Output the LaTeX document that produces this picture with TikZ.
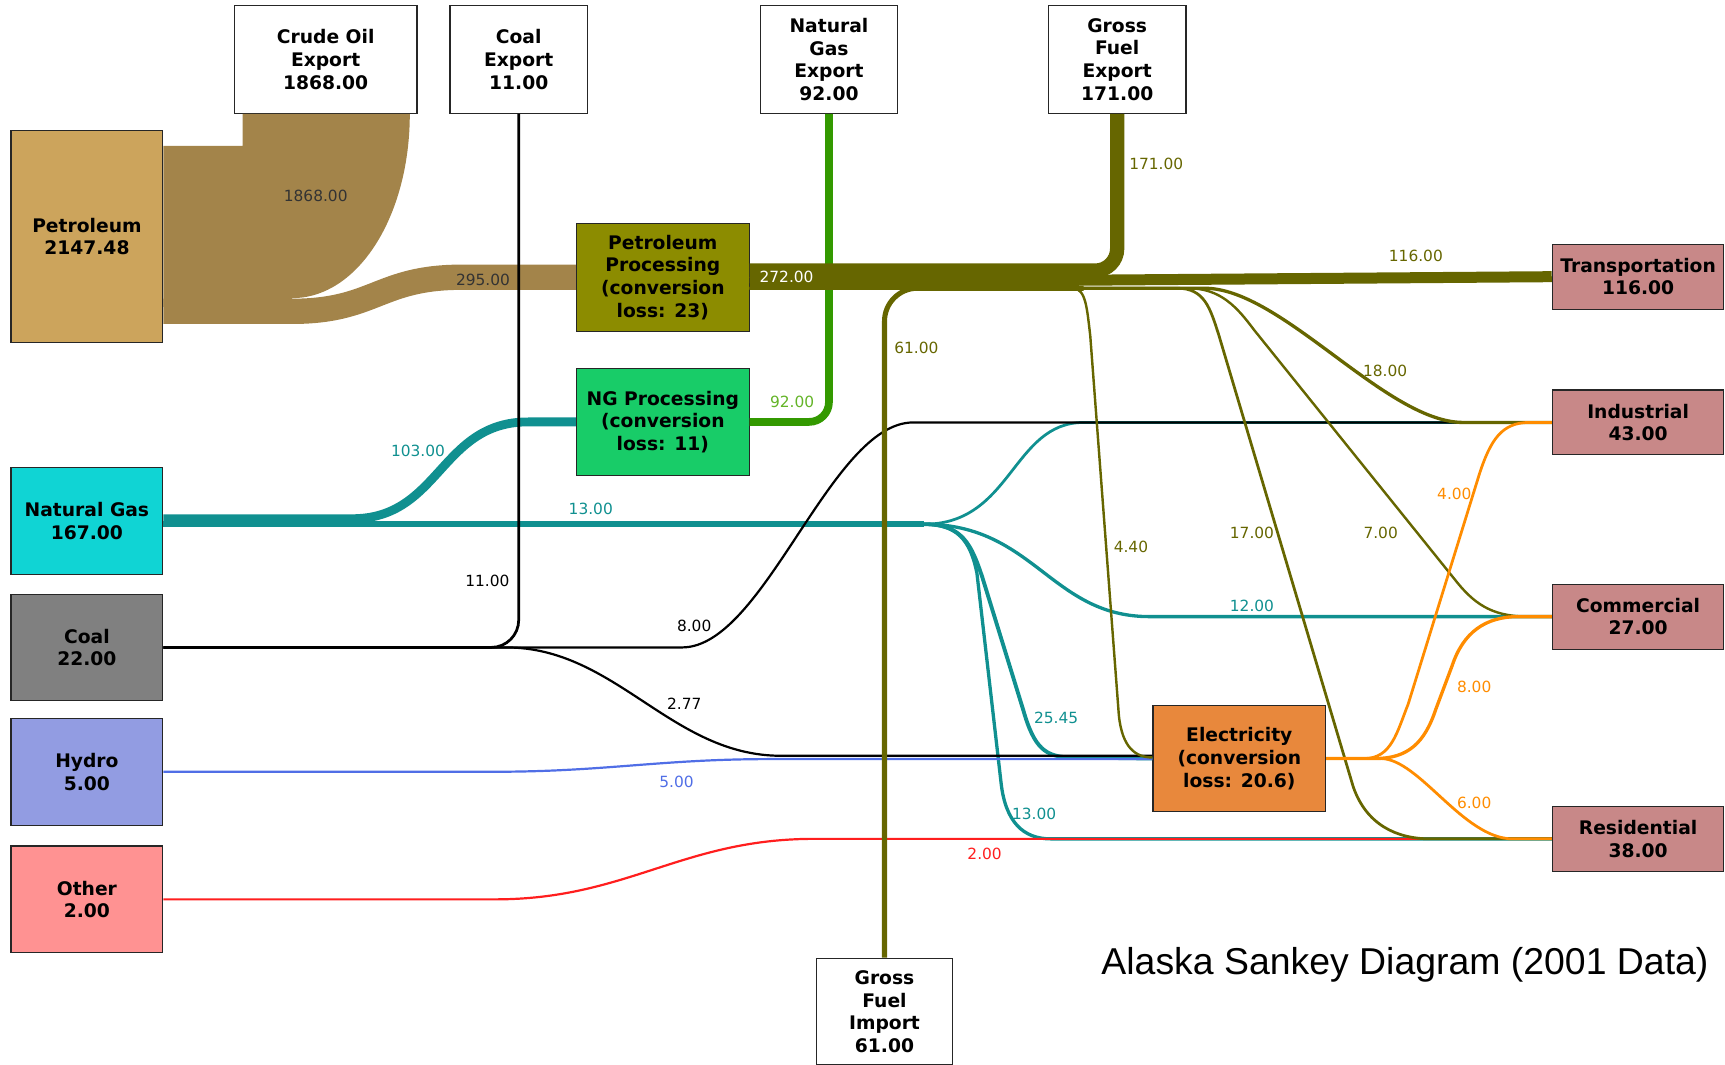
\documentclass[tikz,border=0pt]{standalone}
\usepackage{fontspec}
\setmainfont{DejaVu Sans}
\newfontfamily\titlefont{Liberation Sans}
\usepackage{tikz}
\usetikzlibrary{calc,positioning}

\definecolor{petrofill}{RGB}{204,164,92}
\definecolor{petroflow}{RGB}{163,132,74}
\definecolor{procfill}{RGB}{140,140,0}
\definecolor{fuelcol}{RGB}{102,102,0}
\definecolor{ngpfill}{RGB}{24,204,104}
\definecolor{ngfill}{RGB}{16,212,212}
\definecolor{gascol}{RGB}{16,144,144}
\definecolor{exportcol}{RGB}{51,153,0}
\definecolor{exportlbl}{RGB}{100,180,40}
\definecolor{coalfill}{RGB}{128,128,128}
\definecolor{hydrofill}{RGB}{146,156,226}
\definecolor{hydrocol}{RGB}{80,110,230}
\definecolor{otherfill}{RGB}{255,146,146}
\definecolor{othercol}{RGB}{255,30,30}
\definecolor{elecfill}{RGB}{232,136,60}
\definecolor{eleccol}{RGB}{255,140,0}
\definecolor{sinkfill}{RGB}{200,136,136}

\newcommand{\boxfont}{\bfseries\fontsize{17}{20.6}\selectfont}
\newcommand{\lblfont}{\fontsize{14}{16}\selectfont}

\begin{document}
\begin{tikzpicture}[x=1pt,y=-1pt]
\tikzstyle{box} = [draw=black!85, line width=1pt, rectangle, inner sep=0pt, align=center, font=\boxfont, minimum width=138pt, minimum height=97pt];
\tikzstyle{sink} = [box, fill=sinkfill, minimum width=156pt, minimum height=59pt];
\tikzstyle{lbl} = [font=\lblfont, inner sep=1pt];
\useasboundingbox (0,0) rectangle (1568,968);
% sources
\node[box, fill=petrofill, minimum height=192pt] (petro) at (79,215) {Petroleum\\2147.48};
\node[box, fill=ngfill] (ngas) at (79,473.5) {Natural Gas\\167.00};
\node[box, fill=coalfill] (coal) at (79,588.5) {Coal\\22.00};
\node[box, fill=hydrofill] (hydro) at (79,701.5) {Hydro\\5.00};
\node[box, fill=otherfill] (other) at (79,817.5) {Other\\2.00};
% exports and import
\node[box, fill=white, minimum width=166pt, minimum height=98pt] (crude) at (296,54) {Crude Oil\\Export\\1868.00};
\node[box, fill=white, minimum width=125pt, minimum height=98pt] (coalx) at (471.5,54) {Coal\\Export\\11.00};
\node[box, fill=white, minimum width=125pt, minimum height=98pt] (ngx) at (753.5,54) {Natural\\Gas\\Export\\92.00};
\node[box, fill=white, minimum width=125pt, minimum height=98pt] (gfx) at (1015.5,54) {Gross\\Fuel\\Export\\171.00};
\node[box, fill=white, minimum width=124pt] (gfi) at (804,919.5) {Gross\\Fuel\\Import\\61.00};
% processing
\node[box, fill=procfill, minimum width=157pt, minimum height=98pt] (pproc) at (602.5,252) {Petroleum\\Processing\\(conversion\\loss: 23)};
\node[box, fill=ngpfill, minimum width=157pt] (ngproc) at (602.5,383.5) {NG Processing\\(conversion\\loss: 11)};
\node[box, fill=elecfill, minimum width=157pt] (elec) at (1126.5,689.5) {Electricity\\(conversion\\loss: 20.6)};
% sectors
\node[sink] (trans) at (1489,251.5) {Transportation\\116.00};
\node[sink] (ind) at (1489,384) {Industrial\\43.00};
\node[sink] (com) at (1489,560.5) {Commercial\\27.00};
\node[sink] (res) at (1489,762.5) {Residential\\38.00};

% petroleum
\fill[petroflow] ($(petro.north east)+(0,14)$) -| ($(crude.south west)+(8,0)$) -- ($(crude.south east)+(-7,0)$) .. controls +(0,93) and +(60,0) .. ($(petro.east)+(117,56)$) -- ++(0,8) -- ($(petro.east)+(0,64)$) -- cycle;
\draw[petroflow, line width=23pt] ($(petro.east)+(0,68)$) -- ++(117,0) .. controls +(75,0) and +(-75,0) .. ($(pproc.west)+(-104,0)$) -- (pproc.west);
% natural gas export
\draw[exportcol, line width=7pt, rounded corners=18pt] (ngproc.east) -| (ngx.south);
% refined fuel
\draw[fuelcol, line width=13pt, rounded corners=20pt] ($(pproc.east)+(0,-6)$) -| (gfx.south);
\draw[fuelcol, line width=10pt] ($(pproc.east)+(0,5)$) -- (trans.west);
% natural gas
\draw[gascol, line width=8pt] ($(ngas.east)+(0,-2)$) -- (320,471.5) .. controls +(80,0) and +(-80,0) .. (480,383.5) -- (ngproc.west);
\draw[gascol, line width=5pt] ($(ngas.east)+(0,3)$) -- (840,476.5);
\draw[gascol, line width=2.5pt] ($(ngas.east)+(0,3)$) -- (840,476.5) .. controls +(80,0) and +(-65,0) .. (985,384) -- (ind.west);
\draw[gascol, line width=3pt] ($(ngas.east)+(0,3)$) -- (840,476.5) .. controls +(100,0) and +(-90,0) .. (1045,560.5) -- (com.west);
\draw[gascol, line width=3.5pt] ($(ngas.east)+(0,3)$) -- (840,476.5) .. controls +(35,0) and +(-10,-30) .. (893,525) -- (930,645) .. controls +(10,35) and +(-25,0) .. (975,688.5) -- (elec.west);
\draw[gascol, line width=3pt] ($(ngas.east)+(0,3)$) -- (840,476.5) .. controls +(30,0) and +(-6,-30) .. (888,521) -- (910,712) .. controls +(4,35) and +(-25,0) .. (955,762.5) -- (res.west);
% coal
\draw[black, line width=2.5pt, rounded corners=25pt] (coal.east) -| (coalx.south);
\draw[black, line width=2pt] (coal.east) -- (620,588.5) .. controls +(75,0) and +(-75,0) .. (830,384) -- (ind.west);
\draw[black, line width=2pt] (coal.east) -- (460,588.5) .. controls +(100,0) and +(-100,0) .. (710,687) -- ($(elec.west)+(0,-2.5)$);
% hydro and other
\draw[hydrocol, line width=2pt] (hydro.east) -- (450,701.5) .. controls +(100,0) and +(-100,0) .. (700,690) -- ($(elec.west)+(0,0.5)$);
\draw[othercol, line width=2pt] (other.east) -- (450,817.5) .. controls +(120,0) and +(-120,0) .. (740,762.5) -- (res.west);
% import and fuel branches
\draw[fuelcol, line width=4.6pt, rounded corners=30pt] (gfi.north) |- (985,262);
\draw[fuelcol, line width=2.2pt] ($(pproc.east)+(0,10)$) -- (975,262) .. controls +(12,0) and +(-3,-25) .. (991,305) -- (1017,650) .. controls +(3,30) and +(-15,0) .. ($(elec.west)+(0,-1)$);
\draw[fuelcol, line width=2.5pt] ($(pproc.east)+(0,10)$) -- (1070,262) .. controls +(25,0) and +(-8,-25) .. (1108,305) -- (1230,715) .. controls +(12,35) and +(-30,0) .. (1300,762.5) -- (res.west);
\draw[fuelcol, line width=2.2pt] ($(pproc.east)+(0,10)$) -- (1080,262) .. controls +(30,0) and +(-15,-20) .. (1140,300) -- (1325,530) .. controls +(18,22) and +(-30,0) .. (1390,560.5) -- (com.west);
\draw[fuelcol, line width=3pt] ($(pproc.east)+(0,10)$) -- (1095,262) .. controls +(70,0) and +(-70,0) .. (1330,384) -- (ind.west);
% electricity
\draw[eleccol, line width=2.5pt] (elec.east) -- (1240,689.5) .. controls +(25,0) and +(-10,25) .. (1280,640) -- (1345,430) .. controls +(10,-30) and +(-25,0) .. (1390,384) -- (ind.west);
\draw[eleccol, line width=3pt] (elec.east) -- (1250,689.5) .. controls +(30,0) and +(-10,30) .. (1305,645) -- (1320,605) .. controls +(10,-30) and +(-30,0) .. (1380,560.5) -- (com.west);
\draw[eleccol, line width=2.5pt] (elec.east) -- (1255,689.5) .. controls +(35,0) and +(-45,0) .. (1375,762.5) -- (res.west);

% flow values
\node[lbl, text=black!80] (v1868) at (287,178) {1868.00};
\node[lbl, text=black!80] (v295) at (439,254) {295.00};
\node[lbl, text=white] (v272) at (715,252) {272.00};
\node[lbl, text=fuelcol] (v171) at (1051,149) {171.00};
\node[lbl, text=fuelcol] (v116) at (1287,233) {116.00};
\node[lbl, text=fuelcol] (v61) at (833,316) {61.00};
\node[lbl, text=fuelcol] (v18) at (1259,337) {18.00};
\node[lbl, text=fuelcol] (v440) at (1028,497) {4.40};
\node[lbl, text=fuelcol] (v17) at (1138,484) {17.00};
\node[lbl, text=fuelcol] (v7) at (1255,484) {7.00};
\node[lbl, text=gascol] (v103) at (380,410) {103.00};
\node[lbl, text=gascol] (v13a) at (537,463) {13.00};
\node[lbl, text=gascol] (v12) at (1138,551) {12.00};
\node[lbl, text=gascol] (v2545) at (960,653) {25.45};
\node[lbl, text=gascol] (v13b) at (940,740) {13.00};
\node[lbl, text=exportlbl] (v92) at (720,365) {92.00};
\node[lbl, text=black] (v11) at (443,528) {11.00};
\node[lbl, text=black] (v8a) at (631,569) {8.00};
\node[lbl, text=black] (v277) at (622,640) {2.77};
\node[lbl, text=hydrocol] (v5) at (615,711) {5.00};
\node[lbl, text=othercol] (v2) at (895,776) {2.00};
\node[lbl, text=eleccol] (v4) at (1322,449) {4.00};
\node[lbl, text=eleccol] (v8b) at (1340,624) {8.00};
\node[lbl, text=eleccol] (v6) at (1340,730) {6.00};

\node[anchor=base west, inner sep=0pt, font=\titlefont\fontsize{34}{38}\selectfont] (title) at (1001,886) {Alaska Sankey Diagram (2001 Data)};
\end{tikzpicture}
\end{document}
